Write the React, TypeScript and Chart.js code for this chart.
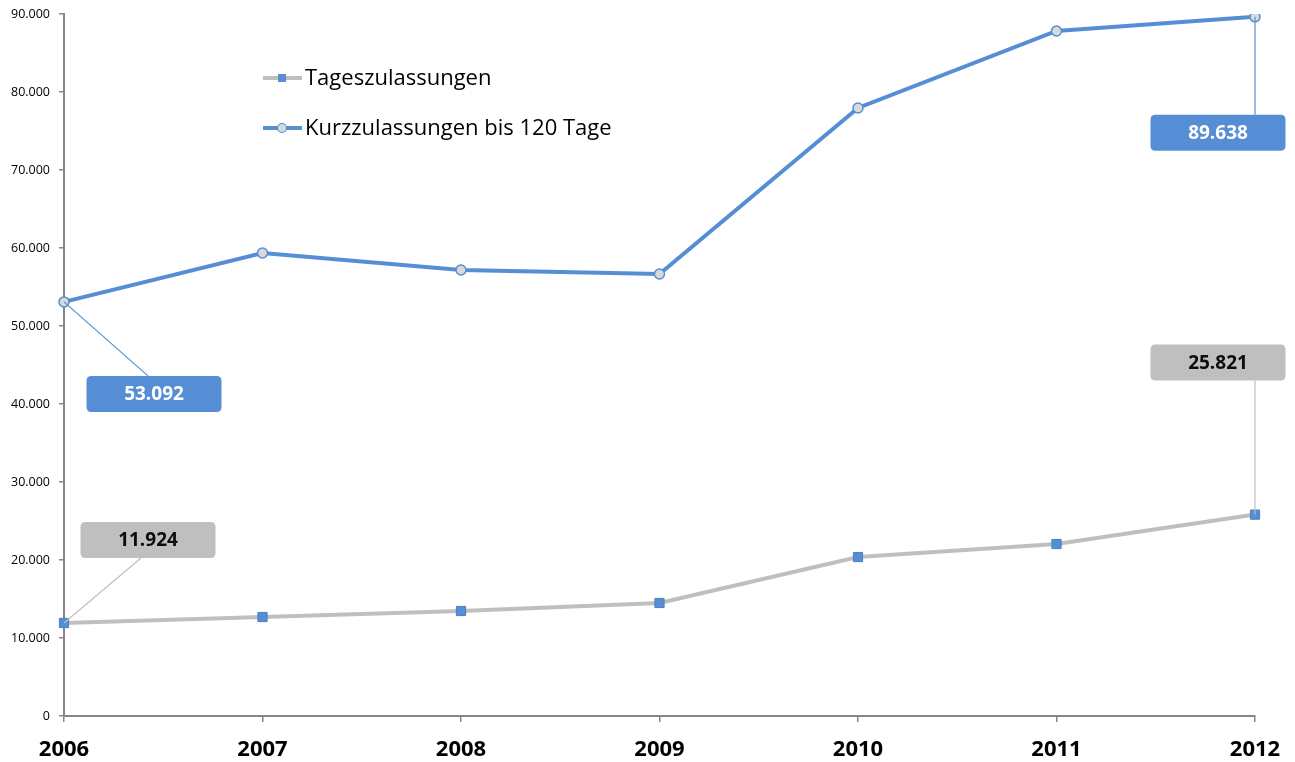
import React, { useEffect, useRef } from "react";
import { Chart, registerables } from "chart.js";

Chart.register(...registerables);

const years = ["2006", "2007", "2008", "2009", "2010", "2011", "2012"];
const tageszulassungen = [11924, 12690, 13460, 14490, 20380, 22050, 25821];
const kurzzulassungen = [53092, 59360, 57180, 56670, 77950, 87820, 89638];
const yTickValues = [0, 10000, 20000, 30000, 40000, 50000, 60000, 70000, 80000, 90000];
const seriesNames = ["Tageszulassungen", "Kurzzulassungen bis 120 Tage"];

const BLUE = "#558ED5";
const GRAY = "#BFBFBF";
const AXIS = "#868686";
const FONT = "'Open Sans', 'DejaVu Sans', sans-serif";

// callout labels: dataset index, point index, box centre offset, leader anchor offset on box edge
const callouts = [
  { ds: 1, i: 0, dx: 90, dy: 92, ax: 84, fill: BLUE, text: "#FFFFFF", line: BLUE },
  { ds: 0, i: 0, dx: 84, dy: -83, ax: 77, fill: GRAY, text: "#0D0D0D", line: GRAY },
  { ds: 1, i: 6, dx: -37, dy: 116, ax: 0, fill: BLUE, text: "#FFFFFF", line: BLUE },
  { ds: 0, i: 6, dx: -37, dy: -152, ax: 0, fill: GRAY, text: "#0D0D0D", line: GRAY },
];

function fmt(v: number): string {
  return String(Math.round(v)).replace(/\B(?=(\d{3})+(?!\d))/g, ".");
}

function roundRect(ctx: CanvasRenderingContext2D, x: number, y: number, w: number, h: number, r: number) {
  ctx.beginPath();
  ctx.moveTo(x + r, y);
  ctx.lineTo(x + w - r, y);
  ctx.quadraticCurveTo(x + w, y, x + w, y + r);
  ctx.lineTo(x + w, y + h - r);
  ctx.quadraticCurveTo(x + w, y + h, x + w - r, y + h);
  ctx.lineTo(x + r, y + h);
  ctx.quadraticCurveTo(x, y + h, x, y + h - r);
  ctx.lineTo(x, y + r);
  ctx.quadraticCurveTo(x, y, x + r, y);
  ctx.closePath();
}

const calloutPlugin = {
  id: "callouts",
  afterDatasetsDraw(chart: any) {
    const ctx: CanvasRenderingContext2D = chart.ctx;
    const W = 135;
    const H = 36;
    ctx.save();
    for (const c of callouts) {
      const pt = chart.getDatasetMeta(c.ds).data[c.i];
      const px = pt.x;
      const py = pt.y;
      const cx = px + c.dx;
      const cy = py + c.dy;
      const edgeY = c.dy > 0 ? cy - H / 2 : cy + H / 2;
      ctx.strokeStyle = c.line;
      ctx.lineWidth = 1.2;
      ctx.beginPath();
      ctx.moveTo(px, py);
      ctx.lineTo(px + c.ax, edgeY);
      ctx.stroke();
      roundRect(ctx, cx - W / 2, cy - H / 2, W, H, 5);
      ctx.fillStyle = c.fill;
      ctx.fill();
      const val = chart.data.datasets[c.ds].data[c.i];
      ctx.fillStyle = c.text;
      ctx.font = `bold 19px ${FONT}`;
      ctx.textAlign = "center";
      ctx.textBaseline = "middle";
      ctx.fillText(fmt(val), cx, cy + 1);
    }
    ctx.restore();
  },
};

const legendPlugin = {
  id: "customLegend",
  afterDraw(chart: any) {
    const ctx: CanvasRenderingContext2D = chart.ctx;
    ctx.save();
    const rows = [
      { y: 78, line: GRAY, marker: "rect" },
      { y: 128, line: BLUE, marker: "circle" },
    ];
    rows.forEach((r, idx) => {
      ctx.strokeStyle = r.line;
      ctx.lineWidth = 4;
      ctx.beginPath();
      ctx.moveTo(263, r.y);
      ctx.lineTo(302, r.y);
      ctx.stroke();
      if (r.marker === "rect") {
        ctx.fillStyle = BLUE;
        ctx.fillRect(278, r.y - 4, 8, 8);
      } else {
        ctx.beginPath();
        ctx.arc(282, r.y, 4.5, 0, Math.PI * 2);
        ctx.fillStyle = "#D9D9D9";
        ctx.fill();
        ctx.lineWidth = 1.2;
        ctx.strokeStyle = BLUE;
        ctx.stroke();
      }
      ctx.fillStyle = "#000000";
      ctx.font = `22px ${FONT}`;
      ctx.textAlign = "left";
      ctx.textBaseline = "middle";
      ctx.fillText(seriesNames[idx], 305, r.y + 1);
    });
    ctx.restore();
  },
};

export default function App() {
  const ref = useRef<HTMLCanvasElement | null>(null);
  useEffect(() => {
    if (!ref.current) return;
    const chart = new Chart(ref.current, {
      type: "line",
      data: {
        labels: years,
        datasets: [
          {
            label: seriesNames[0],
            data: tageszulassungen,
            borderColor: GRAY,
            borderWidth: 4,
            pointStyle: "rect",
            pointRadius: 6.5,
            pointBackgroundColor: BLUE,
            pointBorderColor: "#4A7EBB",
            pointBorderWidth: 1,
            tension: 0,
          },
          {
            label: seriesNames[1],
            data: kurzzulassungen,
            borderColor: BLUE,
            borderWidth: 4,
            pointStyle: "circle",
            pointRadius: 5,
            pointBackgroundColor: "#D9D9D9",
            pointBorderColor: BLUE,
            pointBorderWidth: 1.5,
            tension: 0,
          },
        ],
      },
      options: {
        responsive: false,
        animation: false,
        layout: { padding: { left: 0, right: 40, top: 14, bottom: 0 } },
        plugins: {
          legend: { display: false },
          tooltip: { enabled: false },
        },
        scales: {
          x: {
            type: "category",
            offset: false,
            grid: {
              display: true,
              drawOnChartArea: false,
              drawTicks: true,
              tickLength: 6,
              color: AXIS,
              lineWidth: 1.5,
            },
            border: { display: true, color: AXIS, width: 2 },
            ticks: {
              color: "#000000",
              font: { family: FONT, size: 22, weight: "bold" },
              padding: 15,
              maxRotation: 0,
            },
            afterFit: (s: any) => {
              s.height = 46;
              s.paddingLeft = 0;
              s.paddingRight = 0;
            },
          },
          y: {
            min: 0,
            max: 90000,
            afterBuildTicks: (s: any) => {
              s.ticks = yTickValues.map((v) => ({ value: v }));
            },
            grid: {
              display: true,
              drawOnChartArea: false,
              drawTicks: true,
              tickLength: 5,
              color: AXIS,
              lineWidth: 1.5,
            },
            border: { display: true, color: AXIS, width: 2 },
            ticks: {
              color: "#000000",
              font: { family: FONT, size: 12.5 },
              padding: 9,
              callback: (v: any) => fmt(Number(v)),
            },
            afterFit: (s: any) => {
              s.width = 64;
              s.paddingTop = 0;
              s.paddingBottom = 0;
            },
          },
        },
      },
      plugins: [calloutPlugin, legendPlugin],
    } as any);
    return () => chart.destroy();
  }, []);
  return (
    <div style={{ position: "fixed", left: 0, top: 0, width: 1295, height: 762, background: "#fff" }}>
      <canvas ref={ref} width={1295} height={762} style={{ display: "block" }} />
    </div>
  );
}
